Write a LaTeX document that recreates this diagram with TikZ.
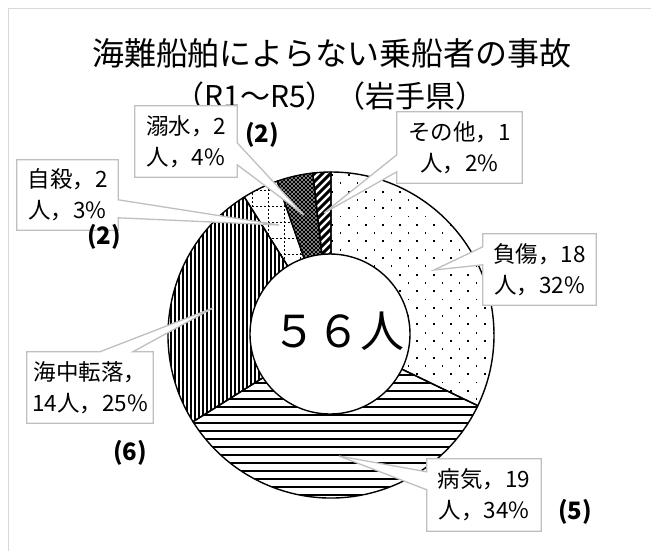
\documentclass[tikz,border=0pt]{standalone}
\usepackage{fontspec}
\setmainfont{Noto Sans CJK JP}
\usetikzlibrary{calc}
\pgfdeclarelayer{fg}
\pgfsetlayers{main,fg}

\newcommand\hatchslice[3]{%
  \begin{scope}
    \clip (C) -- ++(#1:163pt) arc[start angle=#1, end angle=#2, radius=163pt] -- cycle;
    #3
  \end{scope}
  \draw[slice] (C) -- ++(#1:163pt) arc[start angle=#1, end angle=#2, radius=163pt] -- cycle;}

\begin{document}
\begin{tikzpicture}[x=1pt,y=-1pt,
  slice/.style={draw=black, line width=1.4pt, line join=round},
  lbl/.style={align=center, inner sep=0pt, font=\fontsize{22.5}{31}\selectfont},
  callout/.style={draw=black!25, fill=white, line width=1.3pt, line join=miter},
  cnt/.style={inner sep=0pt, font=\bfseries\fontsize{24}{24}\selectfont},
  gridline/.style={line width=1pt, dash pattern=on 2pt off 2pt},
]
\useasboundingbox (0,0) rectangle (651,550);
\clip (0,0) rectangle (651,550);
\fill[white] (0,0) rectangle (651,550);
\draw[black!15, line width=1pt] (8,8) rectangle (700,600);

% title
\node[font=\fontsize{32}{32}\selectfont] (t1) at (332,53) {海難船舶によらない乗船者の事故};
\node[font=\fontsize{30}{30}\selectfont] (t2) at (330,96) {（R1～R5）（岩手県）};

% doughnut
\coordinate (C) at (331,335);
% 負傷 : dots
\hatchslice{90}{-25.714}{%
  \foreach \k in {0,...,40} {\foreach \j in {0,...,10} {
    \fill ({331+17*\j+8.5*mod(\k,2)}, {174+8.3*\k}) rectangle ++(1.9,1.9);}}}
% 病気 : horizontal lines
\hatchslice{-25.714}{-147.857}{%
  \foreach \yy in {341.5,349.5,...,501.5} {\fill (160,\yy) rectangle (510,{\yy+2.2});}}
% 海中転落 : vertical lines
\hatchslice{-147.857}{-237.857}{%
  \foreach \xx in {166,170,...,334} {\fill (\xx,165) rectangle ({\xx+2},505);}}
% 自殺 : dashed grid
\hatchslice{-237.857}{-250.714}{%
  \foreach \xx in {236,252,...,316} {\draw[gridline] (\xx,165) -- (\xx,340);}
  \foreach \yy in {174,190,...,334} {\draw[gridline] (220,\yy) -- (340,\yy);}}
% 溺水 : checker
\hatchslice{-250.714}{-263.571}{%
  \fill (260,165) rectangle (340,340);
  \foreach \xx in {270,274,...,334} {\foreach \yy in {168,172,...,336} {
    \fill[white] (\xx,\yy) circle (0.95pt); \fill[white] ({\xx+2},{\yy+2}) circle (0.95pt);}}}
% その他 : thick diagonal
\hatchslice{-263.571}{-270}{%
  \foreach \yy in {180,188,...,360} {\draw[line width=3pt] (300,\yy) -- (350,{\yy-50});}}

\node[circle, draw=black, fill=white, line width=1.4pt, minimum size=160pt, inner sep=0pt] (hole) at (330,334) {};
\node[font=\fontsize{44}{44}\selectfont, inner sep=0pt] (total) at (338,331) {５６人};

% tips
\coordinate (fstip) at (434,270);
\coordinate (bktip) at (339,456);
\coordinate (kctip) at (213,308);
\coordinate (jstip) at (279,225);
\coordinate (dstip) at (304,215);
\coordinate (sttip) at (324,213);

% label texts
\begin{pgfonlayer}{fg}
\node[lbl, minimum width=113pt, minimum height=71pt] (fs) at (539.5,269.5) {負傷，18\\人，32\%};
\node[lbl, minimum width=114pt, minimum height=72pt] (bk) at (484,495) {病気，19\\人，34\%};
\node[lbl, minimum width=126pt, minimum height=71pt] (kc) at (90,387.5) {海中転落，\\14人，25\%};
\node[lbl, minimum width=101pt, minimum height=70pt] (js) at (67.5,195) {自殺，2\\人，3\%};
\node[lbl, minimum width=102pt, minimum height=71pt] (ds) at (186,141.5) {溺水，2\\人，4\%};
\node[lbl, minimum width=125pt, minimum height=71pt] (st) at (459.5,147.5) {その他，1\\人，2\%};
\node[cnt] (c1) at (262,135) {(2)};
\node[cnt] (c2) at (104,237) {(2)};
\node[cnt] (c3) at (130,453) {(6)};
\node[cnt] (c4) at (575,512) {(5)};
\end{pgfonlayer}

% callout outlines
\draw[callout] (fs.north west) -- (fs.north east) -- (fs.south east) -- (fs.south west)
  -- ([yshift=-31pt]fs.north west) -- (fstip) -- ([yshift=-13pt]fs.north west) -- cycle;
\draw[callout] (bk.north west) -- (bk.north east) -- (bk.south east) -- (bk.south west)
  -- ([yshift=-31pt]bk.north west) -- (bktip) -- ([yshift=-13pt]bk.north west) -- cycle;
\draw[callout] (st.north west) -- (st.north east) -- (st.south east) -- (st.south west)
  -- ([yshift=-60pt]st.north west) -- (sttip) -- ([yshift=-43pt]st.north west) -- cycle;
\draw[callout] (js.north west) -- (js.north east) -- ([yshift=-40pt]js.north east) -- (jstip)
  -- ([yshift=-58pt]js.north east) -- (js.south east) -- (js.south west) -- cycle;
\draw[callout] (ds.north west) -- (ds.north east) -- ([yshift=-37pt]ds.north east) -- (dstip)
  -- ([yshift=-59pt]ds.north east) -- (ds.south east) -- (ds.south west) -- cycle;
\draw[callout] (kc.north west) -- ([xshift=73pt]kc.north west) -- (kctip) -- ([xshift=106pt]kc.north west)
  -- (kc.north east) -- (kc.south east) -- (kc.south west) -- cycle;
\end{tikzpicture}
\end{document}
